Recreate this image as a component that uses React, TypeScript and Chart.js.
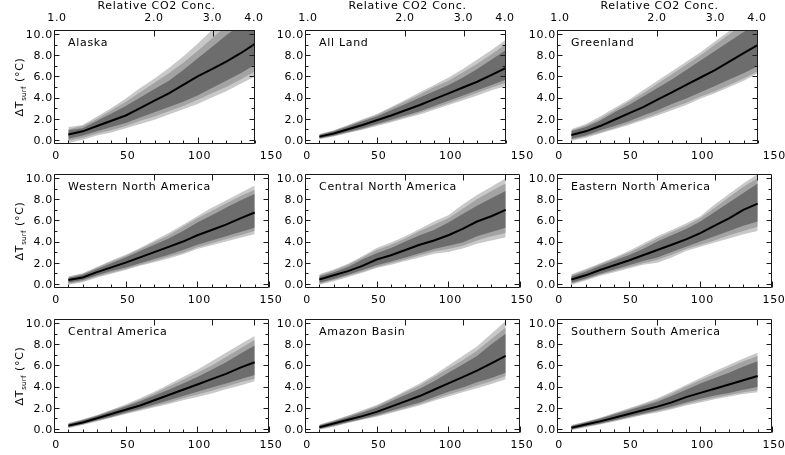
import React, { useEffect, useRef } from 'react';
import { Chart, registerables } from 'chart.js';

Chart.register(...registerables);

// ---------- data ----------
const YEARS = [10, 20, 30, 40, 50, 60, 70, 80, 90, 100, 110, 120, 130, 140];

const X_TICK_VALUES = [0, 50, 100, 150];
const X_TICK_LABELS = ['0', '50', '100', '150'];
const Y_TICK_VALUES = [0, 2, 4, 6, 8, 10];
const Y_TICK_LABELS = ['0.0', '2.0', '4.0', '6.0', '8.0', '10.0'];
const CO2_TICK_VALUES = [1, 2, 3, 4];
const CO2_TICK_LABELS = ['1.0', '2.0', '3.0', '4.0'];
const TOP_TITLE = 'Relative CO2 Conc.';

const PANEL_NAMES = [
  'Alaska', 'All Land', 'Greenland',
  'Western North America', 'Central North America', 'Eastern North America',
  'Central America', 'Amazon Basin', 'Southern South America',
];

// Alaska
const alaskaMean = [0.5, 0.8, 1.3, 1.8, 2.3, 3.0, 3.7, 4.4, 5.2, 6.0, 6.7, 7.4, 8.2, 9.1];
const alaskaHi1 = [0.9, 1.1, 1.8, 2.5, 3.2, 4.0, 4.8, 5.6, 6.6, 7.7, 8.8, 9.9, 10.9, 11.8];
const alaskaHi2 = [1.0, 1.3, 2.0, 2.8, 3.6, 4.5, 5.4, 6.3, 7.3, 8.4, 9.6, 10.8, 11.9, 12.8];
const alaskaHi3 = [1.2, 1.4, 2.2, 3.0, 3.9, 4.9, 5.8, 6.8, 7.9, 9.1, 10.4, 11.6, 12.7, 13.6];
const alaskaLo1 = [0.1, 0.4, 0.8, 1.2, 1.6, 2.1, 2.6, 3.1, 3.6, 4.2, 4.9, 5.6, 6.3, 7.1];
const alaskaLo2 = [-0.1, 0.2, 0.6, 0.9, 1.3, 1.8, 2.2, 2.7, 3.2, 3.8, 4.4, 5.0, 5.7, 6.5];
const alaskaLo3 = [-0.3, 0.0, 0.4, 0.7, 1.1, 1.5, 1.9, 2.4, 2.9, 3.4, 4.0, 4.6, 5.3, 6.0];

// All Land
const landMean = [0.3, 0.6, 1.0, 1.4, 1.85, 2.3, 2.8, 3.3, 3.85, 4.4, 4.95, 5.5, 6.15, 6.8];
const landHi1 = [0.45, 0.8, 1.25, 1.75, 2.2, 2.8, 3.4, 4.0, 4.6, 5.2, 5.9, 6.7, 7.6, 8.5];
const landHi2 = [0.5, 0.85, 1.35, 1.85, 2.35, 3.0, 3.65, 4.3, 5.0, 5.6, 6.4, 7.2, 8.1, 9.1];
const landHi3 = [0.55, 0.9, 1.4, 1.95, 2.45, 3.1, 3.8, 4.5, 5.2, 5.9, 6.7, 7.6, 8.5, 9.5];
const landLo1 = [0.15, 0.4, 0.75, 1.1, 1.5, 1.9, 2.3, 2.7, 3.2, 3.7, 4.2, 4.7, 5.2, 5.7];
const landLo2 = [0.1, 0.35, 0.7, 1.0, 1.4, 1.75, 2.15, 2.55, 3.0, 3.45, 3.95, 4.45, 4.95, 5.4];
const landLo3 = [0.05, 0.3, 0.65, 0.95, 1.3, 1.65, 2.05, 2.4, 2.85, 3.3, 3.75, 4.2, 4.7, 5.1];

// Greenland
const greenMean = [0.45, 0.8, 1.3, 1.9, 2.5, 3.1, 3.8, 4.5, 5.2, 5.9, 6.6, 7.4, 8.2, 9.0];
const greenHi1 = [0.8, 1.2, 1.8, 2.6, 3.3, 4.1, 4.9, 5.7, 6.6, 7.5, 8.4, 9.3, 10.2, 11.0];
const greenHi2 = [0.9, 1.35, 2.0, 2.8, 3.6, 4.4, 5.3, 6.2, 7.1, 8.0, 9.0, 10.0, 11.0, 11.9];
const greenHi3 = [1.0, 1.5, 2.2, 3.0, 3.8, 4.7, 5.6, 6.5, 7.4, 8.3, 9.3, 10.3, 11.3, 12.3];
const greenLo1 = [0.1, 0.4, 0.9, 1.3, 1.75, 2.3, 2.8, 3.4, 3.9, 4.5, 5.1, 5.7, 6.3, 7.0];
const greenLo2 = [0.0, 0.3, 0.7, 1.1, 1.55, 2.0, 2.5, 3.0, 3.5, 4.1, 4.6, 5.2, 5.8, 6.5];
const greenLo3 = [-0.1, 0.2, 0.6, 1.0, 1.4, 1.85, 2.3, 2.8, 3.3, 3.9, 4.4, 5.0, 5.6, 6.3];

// Western North America
const wnaMean = [0.35, 0.6, 1.1, 1.55, 2.0, 2.5, 3.0, 3.5, 4.0, 4.6, 5.1, 5.6, 6.2, 6.75];
const wnaHi1 = [0.55, 0.85, 1.4, 1.95, 2.5, 3.1, 3.7, 4.3, 5.0, 5.8, 6.5, 7.2, 7.9, 8.5];
const wnaHi2 = [0.65, 0.95, 1.55, 2.1, 2.65, 3.3, 3.95, 4.6, 5.4, 6.2, 6.9, 7.6, 8.3, 8.9];
const wnaHi3 = [0.7, 1.0, 1.6, 2.2, 2.75, 3.4, 4.1, 4.8, 5.6, 6.4, 7.2, 7.9, 8.6, 9.3];
const wnaLo1 = [0.1, 0.35, 0.8, 1.2, 1.55, 1.95, 2.35, 2.75, 3.2, 3.7, 4.1, 4.5, 4.9, 5.3];
const wnaLo2 = [0.0, 0.25, 0.7, 1.05, 1.4, 1.8, 2.15, 2.55, 2.95, 3.45, 3.85, 4.25, 4.6, 5.0];
const wnaLo3 = [-0.1, 0.15, 0.6, 0.95, 1.3, 1.7, 2.05, 2.4, 2.8, 3.3, 3.65, 4.0, 4.35, 4.7];

// Central North America
const cnaMean = [0.4, 0.8, 1.2, 1.7, 2.3, 2.7, 3.2, 3.7, 4.1, 4.6, 5.2, 5.9, 6.4, 7.0];
const cnaHi1 = [0.7, 1.1, 1.6, 2.3, 2.9, 3.4, 4.0, 4.6, 5.1, 5.8, 6.6, 7.4, 8.1, 8.8];
const cnaHi2 = [0.8, 1.25, 1.8, 2.5, 3.2, 3.7, 4.3, 5.0, 5.6, 6.2, 7.1, 8.0, 8.8, 9.5];
const cnaHi3 = [0.9, 1.35, 1.9, 2.6, 3.4, 3.9, 4.5, 5.2, 5.9, 6.5, 7.5, 8.4, 9.2, 10.0];
const cnaLo1 = [0.1, 0.45, 0.85, 1.3, 1.75, 2.1, 2.5, 2.9, 3.3, 3.6, 3.9, 4.5, 4.9, 5.3];
const cnaLo2 = [0.0, 0.35, 0.75, 1.15, 1.6, 1.95, 2.3, 2.7, 3.05, 3.3, 3.6, 4.1, 4.5, 4.8];
const cnaLo3 = [-0.1, 0.25, 0.65, 1.05, 1.5, 1.8, 2.15, 2.5, 2.85, 3.0, 3.35, 3.8, 4.1, 4.4];

// Eastern North America
const enaMean = [0.4, 0.8, 1.3, 1.75, 2.2, 2.7, 3.2, 3.7, 4.2, 4.8, 5.5, 6.2, 7.0, 7.6];
const enaHi1 = [0.7, 1.15, 1.7, 2.2, 2.7, 3.3, 4.0, 4.6, 5.2, 5.9, 6.8, 7.7, 8.6, 9.5];
const enaHi2 = [0.8, 1.3, 1.85, 2.4, 2.95, 3.6, 4.3, 4.9, 5.5, 6.2, 7.2, 8.2, 9.2, 10.0];
const enaHi3 = [0.9, 1.4, 1.95, 2.5, 3.1, 3.8, 4.5, 5.1, 5.7, 6.4, 7.5, 8.5, 9.5, 10.4];
const enaLo1 = [0.1, 0.5, 0.95, 1.35, 1.75, 2.15, 2.5, 3.0, 3.5, 4.0, 4.5, 5.0, 5.5, 5.9];
const enaLo2 = [0.0, 0.4, 0.85, 1.2, 1.6, 1.95, 2.25, 2.75, 3.3, 3.7, 4.1, 4.6, 5.0, 5.4];
const enaLo3 = [-0.1, 0.3, 0.75, 1.1, 1.45, 1.8, 2.0, 2.5, 3.1, 3.5, 3.9, 4.3, 4.7, 5.0];

// Central America
const camMean = [0.3, 0.6, 1.0, 1.4, 1.8, 2.2, 2.7, 3.2, 3.7, 4.2, 4.7, 5.2, 5.8, 6.3];
const camHi1 = [0.45, 0.8, 1.2, 1.65, 2.1, 2.6, 3.15, 3.7, 4.3, 4.9, 5.6, 6.3, 7.1, 7.9];
const camHi2 = [0.5, 0.85, 1.25, 1.75, 2.2, 2.75, 3.35, 4.0, 4.65, 5.3, 6.0, 6.8, 7.6, 8.4];
const camHi3 = [0.55, 0.9, 1.3, 1.8, 2.3, 2.9, 3.5, 4.2, 4.9, 5.6, 6.4, 7.2, 8.0, 8.8];
const camLo1 = [0.15, 0.45, 0.8, 1.15, 1.55, 1.9, 2.3, 2.7, 3.1, 3.5, 3.9, 4.3, 4.7, 5.1];
const camLo2 = [0.1, 0.4, 0.75, 1.1, 1.45, 1.8, 2.15, 2.5, 2.9, 3.25, 3.6, 4.0, 4.4, 4.75];
const camLo3 = [0.05, 0.35, 0.7, 1.05, 1.4, 1.7, 2.05, 2.35, 2.7, 3.0, 3.35, 3.75, 4.1, 4.5];

// Amazon Basin
const amzMean = [0.15, 0.5, 0.85, 1.2, 1.6, 2.1, 2.6, 3.1, 3.7, 4.3, 4.9, 5.5, 6.2, 6.9];
const amzHi1 = [0.3, 0.7, 1.1, 1.55, 2.0, 2.6, 3.2, 3.8, 4.5, 5.3, 6.1, 6.9, 8.0, 9.0];
const amzHi2 = [0.35, 0.75, 1.2, 1.65, 2.15, 2.8, 3.45, 4.1, 4.9, 5.7, 6.5, 7.4, 8.5, 9.6];
const amzHi3 = [0.4, 0.8, 1.25, 1.75, 2.25, 2.9, 3.6, 4.3, 5.1, 6.0, 6.9, 7.8, 9.0, 10.2];
const amzLo1 = [0.0, 0.3, 0.65, 0.95, 1.3, 1.7, 2.1, 2.5, 3.0, 3.5, 3.9, 4.4, 4.8, 5.3];
const amzLo2 = [-0.05, 0.25, 0.6, 0.9, 1.2, 1.6, 1.95, 2.35, 2.8, 3.25, 3.65, 4.1, 4.5, 5.0];
const amzLo3 = [-0.1, 0.2, 0.55, 0.85, 1.15, 1.5, 1.85, 2.2, 2.65, 3.05, 3.45, 3.85, 4.25, 4.7];

// Southern South America
const ssaMean = [0.1, 0.4, 0.7, 1.05, 1.4, 1.75, 2.1, 2.5, 3.0, 3.4, 3.8, 4.2, 4.6, 5.0];
const ssaHi1 = [0.25, 0.6, 0.95, 1.35, 1.75, 2.15, 2.55, 3.1, 3.7, 4.3, 4.8, 5.3, 5.9, 6.4];
const ssaHi2 = [0.3, 0.65, 1.0, 1.45, 1.85, 2.3, 2.75, 3.35, 4.0, 4.6, 5.2, 5.8, 6.4, 6.9];
const ssaHi3 = [0.35, 0.7, 1.05, 1.5, 1.95, 2.4, 2.9, 3.5, 4.15, 4.8, 5.45, 6.05, 6.65, 7.2];
const ssaLo1 = [-0.05, 0.25, 0.5, 0.8, 1.15, 1.45, 1.75, 2.1, 2.5, 2.85, 3.15, 3.4, 3.7, 3.95];
const ssaLo2 = [-0.1, 0.2, 0.45, 0.75, 1.05, 1.35, 1.65, 1.95, 2.35, 2.65, 2.95, 3.2, 3.45, 3.65];
const ssaLo3 = [-0.15, 0.15, 0.4, 0.7, 1.0, 1.3, 1.55, 1.85, 2.2, 2.5, 2.8, 3.05, 3.3, 3.45];

const PANEL_SERIES = [
  [alaskaMean, alaskaHi1, alaskaLo1, alaskaHi2, alaskaLo2, alaskaHi3, alaskaLo3],
  [landMean, landHi1, landLo1, landHi2, landLo2, landHi3, landLo3],
  [greenMean, greenHi1, greenLo1, greenHi2, greenLo2, greenHi3, greenLo3],
  [wnaMean, wnaHi1, wnaLo1, wnaHi2, wnaLo2, wnaHi3, wnaLo3],
  [cnaMean, cnaHi1, cnaLo1, cnaHi2, cnaLo2, cnaHi3, cnaLo3],
  [enaMean, enaHi1, enaLo1, enaHi2, enaLo2, enaHi3, enaLo3],
  [camMean, camHi1, camLo1, camHi2, camLo2, camHi3, camLo3],
  [amzMean, amzHi1, amzLo1, amzHi2, amzLo2, amzHi3, amzLo3],
  [ssaMean, ssaHi1, ssaLo1, ssaHi2, ssaLo2, ssaHi3, ssaLo3],
];

// ---------- layout / style ----------
const W = 785;
const H = 455;
const COL_LEFT = [54, 305, 557];
const PX_PER_YEAR = 201 / 140;
const ROW_TOP = [30, 174, 319];
const ROW_BOTTOM = [144, 288, 433];
const ROW_XMAX = [140, 150, 150];
const Y_MIN = -0.4;
const Y_MAX = 10.4;

const DARK = '#6d6d6d';
const MID = '#a3a3a3';
const LIGHT = '#c8c8c8';
const AXIS = '#1a1a1a';
const FONT_FAMILY = '"DejaVu Sans", "Liberation Sans", sans-serif';
const FONT_PX = 11;
const LETTER_SPACING = '0.7px';

function toPts(arr: number[]) {
  return arr.map((v, i) => ({ x: YEARS[i], y: v }));
}

const axesPlugin = {
  id: 'idlAxes',
  afterDraw(chart: any, _args: any, opts: any) {
    const { ctx, chartArea: a, scales } = chart;
    const xs = scales.x;
    const ys = scales.y;
    const cs = scales.co2;
    const row = opts.row;
    const col = opts.col;
    ctx.save();
    ctx.strokeStyle = AXIS;
    ctx.lineWidth = 1;
    const L = Math.round(a.left) + 0.5;
    const R = Math.round(a.right) - 0.5;
    const T = Math.round(a.top) + 0.5;
    const B = Math.round(a.bottom) - 0.5;
    ctx.beginPath();
    ctx.rect(L, T, R - L, B - T);
    // bottom ticks every 10 years
    for (let v = 0; v <= xs.max + 0.01; v += 10) {
      const px = Math.round(xs.getPixelForValue(v)) + 0.5;
      const len = v % 50 === 0 ? 6 : 3;
      ctx.moveTo(px, B);
      ctx.lineTo(px, B - len);
    }
    // top CO2 ticks
    CO2_TICK_VALUES.forEach((v) => {
      const px = Math.round(cs.getPixelForValue(v)) + 0.5;
      ctx.moveTo(px, T);
      ctx.lineTo(px, T + 6);
    });
    // y ticks left & right
    for (let v = 0; v <= 10; v += 1) {
      const py = Math.round(ys.getPixelForValue(v)) + 0.5;
      const len = v % 2 === 0 ? 5 : 3;
      ctx.moveTo(L, py);
      ctx.lineTo(L + len, py);
      ctx.moveTo(R, py);
      ctx.lineTo(R - len, py);
    }
    ctx.stroke();

    ctx.fillStyle = '#000';
    ctx.font = `${FONT_PX}px ${FONT_FAMILY}`;
    (ctx as any).letterSpacing = LETTER_SPACING;
    // y tick labels
    ctx.textAlign = 'right';
    ctx.textBaseline = 'middle';
    Y_TICK_VALUES.forEach((v, i) => {
      ctx.fillText(Y_TICK_LABELS[i], a.left - 1, ys.getPixelForValue(v) + 1);
    });
    // x tick labels
    ctx.textAlign = 'center';
    X_TICK_VALUES.forEach((v, i) => {
      ctx.fillText(X_TICK_LABELS[i], xs.getPixelForValue(v) + 2, a.bottom + 12);
    });
    // top axis
    if (row === 0) {
      CO2_TICK_VALUES.forEach((v, i) => {
        ctx.fillText(CO2_TICK_LABELS[i], cs.getPixelForValue(v) + (i === 0 ? 3 : 0), a.top - 12);
      });
      ctx.fillText(TOP_TITLE, (a.left + a.right) / 2 + 2, a.top - 24);
    }
    // panel title
    ctx.textAlign = 'left';
    ctx.fillText(PANEL_NAMES[row * 3 + col], a.left + 14, a.top + 13);

    // y axis title
    if (col === 0) {
      const cy = (a.top + a.bottom) / 2;
      ctx.translate(19, cy);
      ctx.rotate(-Math.PI / 2);
      ctx.textBaseline = 'alphabetic';
      const mainFont = `${FONT_PX}px ${FONT_FAMILY}`;
      const subFont = `7px ${FONT_FAMILY}`;
      ctx.font = mainFont;
      const w1 = ctx.measureText('\u0394T').width;
      const w3 = ctx.measureText(' (\u00B0C)').width;
      ctx.font = subFont;
      (ctx as any).letterSpacing = '0.3px';
      const w2 = ctx.measureText('surf').width;
      let x0 = -(w1 + w2 + w3) / 2;
      ctx.font = mainFont;
      (ctx as any).letterSpacing = LETTER_SPACING;
      ctx.fillText('\u0394T', x0, 4);
      x0 += w1;
      ctx.font = subFont;
      (ctx as any).letterSpacing = '0.3px';
      ctx.fillText('surf', x0, 7);
      x0 += w2;
      ctx.font = mainFont;
      (ctx as any).letterSpacing = LETTER_SPACING;
      ctx.fillText(' (\u00B0C)', x0, 4);
    }
    ctx.restore();
  },
};

function Panel({ row, col }: { row: number; col: number }) {
  const ref = useRef<HTMLCanvasElement | null>(null);
  useEffect(() => {
    if (!ref.current) return;
    const idx = row * 3 + col;
    const [mean, hi1, lo1, hi2, lo2, hi3, lo3] = PANEL_SERIES[idx];
    const xMax = ROW_XMAX[row];
    const left = COL_LEFT[col];
    const right = Math.round(left + PX_PER_YEAR * xMax);
    const top = ROW_TOP[row];
    const bottom = ROW_BOTTOM[row];
    const edge = (data: number[], color: string, fill: any, order: number) => ({
      data: toPts(data),
      borderColor: 'rgba(0,0,0,0)',
      backgroundColor: color,
      borderWidth: 0,
      pointRadius: 0,
      fill,
      order,
      tension: 0,
    });
    const chart = new Chart(ref.current, {
      type: 'line',
      data: {
        datasets: [
          { data: toPts(mean), borderColor: '#000', borderWidth: 2, pointRadius: 0, fill: false, order: 0, tension: 0 },
          edge(hi1, DARK, 2, 1),
          edge(lo1, DARK, false, 1),
          edge(hi2, MID, 4, 2),
          edge(lo2, MID, false, 2),
          edge(hi3, LIGHT, 6, 3),
          edge(lo3, LIGHT, false, 3),
        ] as any,
      },
      options: {
        responsive: false,
        animation: false,
        devicePixelRatio: 1,
        events: [],
        layout: { padding: { left, top, right: W - right, bottom: H - bottom } },
        plugins: {
          legend: { display: false },
          tooltip: { enabled: false },
          idlAxes: { row, col },
        } as any,
        scales: {
          x: { type: 'linear', min: 0, max: xMax, display: false },
          co2: { type: 'logarithmic', axis: 'x', position: 'top', min: 1, max: Math.pow(1.01, xMax), display: false },
          y: { type: 'linear', min: Y_MIN, max: Y_MAX, display: false },
        } as any,
      },
      plugins: [axesPlugin],
    });
    return () => chart.destroy();
  }, [row, col]);
  return (
    <canvas
      ref={ref}
      width={W}
      height={H}
      style={{ position: 'absolute', left: 0, top: 0, width: W, height: H }}
    />
  );
}

export default function App() {
  const cells: any[] = [];
  for (let r = 0; r < 3; r++) {
    for (let c = 0; c < 3; c++) {
      cells.push(<Panel key={`${r}-${c}`} row={r} col={c} />);
    }
  }
  return (
    <div style={{ position: 'absolute', left: 0, top: 0, width: W, height: H, background: '#fff', overflow: 'hidden' }}>
      {cells}
    </div>
  );
}
